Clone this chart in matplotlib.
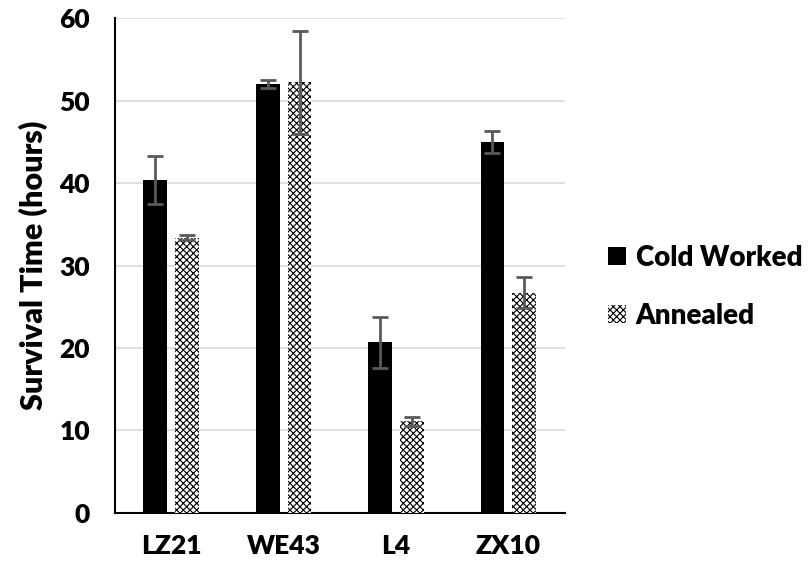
import numpy as np
import matplotlib.pyplot as plt

plt.rcParams['font.family'] = ['Lato', 'DejaVu Sans']
plt.rcParams['font.weight'] = 'heavy'
plt.rcParams['axes.labelweight'] = 'heavy'
plt.rcParams['hatch.linewidth'] = 0.8

# data
alloys = ['LZ21', 'WE43', 'L4', 'ZX10']
cold_worked = [40.4, 52.0, 20.7, 45.0]
cold_err = [2.9, 0.5, 3.1, 1.3]
annealed = [33.4, 52.2, 11.1, 26.7]
annealed_err = [0.3, 6.2, 0.5, 1.9]

fig = plt.figure(figsize=(8.09, 5.68), dpi=100)
ax = fig.add_axes([0.142, 0.097, 0.556, 0.871])

x = np.arange(len(alloys))
w = 0.213
off = 0.142

err_style = dict(ecolor='#595959', elinewidth=2, capsize=6, capthick=2)

ax.bar(x - off, cold_worked, w, color='black', yerr=cold_err,
       error_kw=err_style, label='Cold Worked', zorder=3)
ax.bar(x + off, annealed, w, color='white', edgecolor='black', linewidth=0,
       hatch='xxxxx', yerr=annealed_err, error_kw=err_style,
       label='Annealed', zorder=3)

ax.set_xlim(-0.5, 3.5)
ax.set_ylim(0, 60)
ax.set_yticks(range(0, 61, 10))
ax.set_xticks(x)
ax.set_xticklabels(alloys)
ax.tick_params(axis='both', length=0, labelsize=19)
ax.tick_params(axis='y', pad=18)
ax.tick_params(axis='x', pad=15)
ax.yaxis.grid(True, color='#d9d9d9', linewidth=1.2, zorder=0)
ax.set_axisbelow(True)

for s in ['top', 'right']:
    ax.spines[s].set_visible(False)
ax.spines['left'].set_linewidth(1.5)
ax.spines['bottom'].set_linewidth(1.5)

ax.set_ylabel('Survival Time (hours)', fontsize=22, labelpad=8)

fig.legend(loc='center left', bbox_to_anchor=(0.751, 0.495), frameon=False,
           fontsize=20, handlelength=0.66, handleheight=0.66, handletextpad=0.35,
           labelspacing=1.15, borderpad=0, borderaxespad=0)

fig.savefig('out.png', dpi=100)
